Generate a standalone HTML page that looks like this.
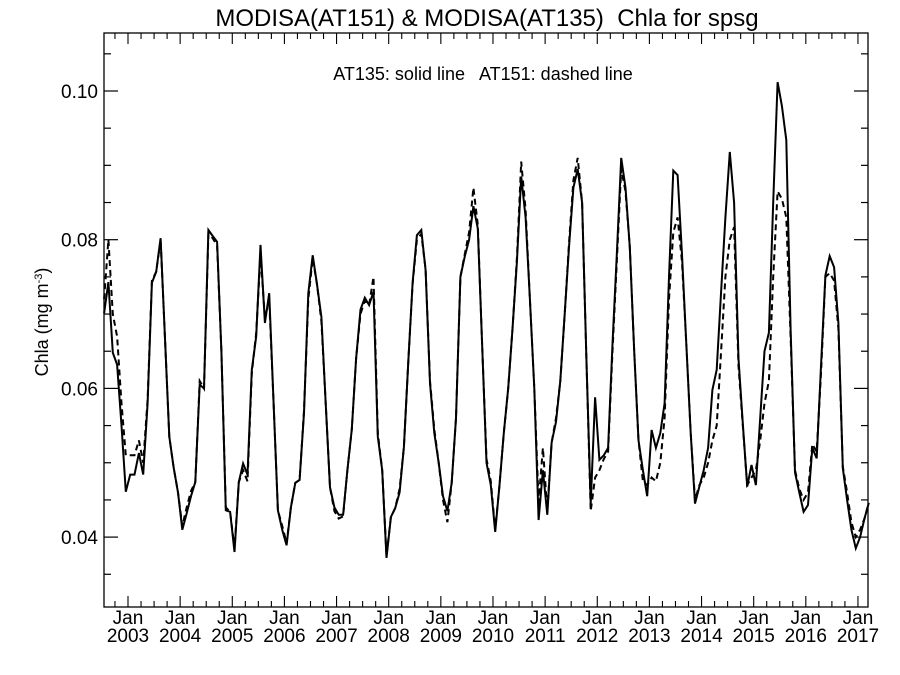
<!DOCTYPE html>
<html><head><meta charset="utf-8"><style>
body{margin:0;background:#fff;}
svg{display:block;font-family:"Liberation Sans",sans-serif;}
</style></head><body>
<svg id="chart" width="900" height="675" viewBox="0 0 900 675">
<rect x="0" y="0" width="900" height="675" fill="#fff"/>
<text x="487" y="26" font-size="24" text-anchor="middle" style="white-space:pre">MODISA(AT151) &amp; MODISA(AT135)  Chla for spsg</text>
<text x="483" y="80" font-size="18" text-anchor="middle" style="white-space:pre">AT135: solid line   AT151: dashed line</text>
<text transform="translate(48,322) rotate(-90)" font-size="18" text-anchor="middle">Chla (mg m<tspan baseline-shift="super" font-size="11">-3</tspan>)</text>
<g id="axes"></g>
<g id="series"></g>
</svg>
<script>
const startYear = 2002, startMonth = 7;
const yTicks = [0.04, 0.06, 0.08, 0.10];
const yTickLabels = ["0.04", "0.06", "0.08", "0.10"];
const xYears = [2003,2004,2005,2006,2007,2008,2009,2010,2011,2012,2013,2014,2015,2016,2017];
const solidAT135 = [
0.0701,0.0743,0.0648,0.0632,0.0550,0.0461,0.0484,0.0484,0.0513,0.0484,0.0580,0.0742,0.0757,0.0802,0.0670,0.0535,0.0494,0.0460,0.0410,0.0432,0.0455,0.0474,0.0605,0.0600,
0.0813,0.0805,0.0797,0.0650,0.0436,0.0434,0.0380,0.0474,0.0499,0.0484,0.0625,0.0670,0.0793,0.0688,0.0728,0.0580,0.0436,0.0410,0.0389,0.0440,0.0473,0.0477,0.0567,0.0728,
0.0779,0.0740,0.0696,0.0580,0.0467,0.0440,0.0430,0.0430,0.0490,0.0545,0.0640,0.0706,0.0722,0.0712,0.0730,0.0535,0.0490,0.0372,0.0427,0.0439,0.0460,0.0521,0.0636,0.0742,
0.0806,0.0813,0.0759,0.0607,0.0540,0.0500,0.0455,0.0435,0.0473,0.0560,0.0750,0.0777,0.0800,0.0845,0.0815,0.0660,0.0500,0.0470,0.0407,0.0470,0.0540,0.0600,0.0680,0.0770,
0.0885,0.0830,0.0720,0.0600,0.0423,0.0490,0.0430,0.0527,0.0555,0.0610,0.0700,0.0790,0.0870,0.0895,0.0850,0.0640,0.0445,0.0588,0.0504,0.0510,0.0520,0.0660,
0.0780,0.0910,0.0870,0.0790,0.0650,0.0530,0.0490,0.0455,0.0544,0.0520,0.0540,0.0580,0.0750,0.0893,0.0887,0.0780,0.0660,0.0540,0.0445,0.0468,0.0490,0.0520,0.0598,0.0625,
0.0730,0.0830,0.0918,0.0850,0.0640,0.0553,0.0468,0.0497,0.0470,0.0560,0.0650,0.0675,0.0850,0.1012,0.0980,0.0934,0.0680,0.0487,0.0460,0.0434,0.0443,0.0520,0.0506,0.0630,
0.0752,0.0778,0.0763,0.0688,0.0493,0.0450,0.0410,0.0385,0.0400,0.0425,0.0446];
const dashedAT151 = [
0.0720,0.0800,0.0700,0.0670,0.0580,0.0510,0.0510,0.0510,0.0530,0.0500,0.0585,0.0745,0.0757,0.0800,0.0670,0.0535,0.0494,0.0460,0.0415,0.0440,0.0462,0.0474,0.0610,0.0600,
0.0808,0.0802,0.0792,0.0650,0.0440,0.0434,0.0385,0.0474,0.0490,0.0475,0.0620,0.0675,0.0780,0.0695,0.0720,0.0580,0.0436,0.0415,0.0392,0.0440,0.0473,0.0477,0.0570,0.0720,
0.0775,0.0740,0.0690,0.0580,0.0467,0.0435,0.0425,0.0428,0.0490,0.0545,0.0640,0.0700,0.0718,0.0712,0.0750,0.0540,0.0490,0.0375,0.0427,0.0439,0.0465,0.0521,0.0636,0.0740,
0.0800,0.0808,0.0760,0.0610,0.0545,0.0500,0.0450,0.0420,0.0473,0.0560,0.0750,0.0780,0.0810,0.0870,0.0820,0.0660,0.0505,0.0475,0.0410,0.0470,0.0540,0.0600,0.0680,0.0775,
0.0905,0.0840,0.0720,0.0600,0.0447,0.0520,0.0435,0.0527,0.0560,0.0610,0.0700,0.0795,0.0880,0.0910,0.0850,0.0640,0.0435,0.0480,0.0490,0.0505,0.0515,0.0650,
0.0770,0.0895,0.0865,0.0790,0.0650,0.0530,0.0475,0.0470,0.0480,0.0475,0.0500,0.0560,0.0720,0.0810,0.0830,0.0770,0.0660,0.0540,0.0450,0.0470,0.0480,0.0500,0.0530,0.0550,
0.0650,0.0750,0.0800,0.0817,0.0630,0.0550,0.0470,0.0480,0.0490,0.0530,0.0580,0.0610,0.0750,0.0865,0.0855,0.0830,0.0670,0.0490,0.0465,0.0450,0.0460,0.0525,0.0515,0.0620,
0.0750,0.0755,0.0745,0.0680,0.0495,0.0460,0.0420,0.0400,0.0410,0.0425,0.0446];

const NS = "http://www.w3.org/2000/svg";
const L = 104, R = 868, T = 33, B = 607;
function yPx(v){ return 91 + (0.10 - v) / 0.02 * 148.7; }
function xPx(t){ return 128 + (t - 2003) * 52.14; }
function monthT(i){ const m = startMonth - 1 + i; return startYear + (m + 0.5) / 12; }
function mk(tag, attrs, parent){ const e = document.createElementNS(NS, tag); for (const k in attrs) e.setAttribute(k, attrs[k]); parent.appendChild(e); return e; }
const axes = document.getElementById("axes");
const frame = mk("rect", {x:L, y:T, width:R-L, height:B-T, fill:"none", stroke:"#000", "stroke-width":1.3}, axes);


for (let k = 0; k <= 16; k++) {
  const v = 0.03 + k * 0.005;
  const y = yPx(v);
  if (y < T || y > B) continue;
  const major = yTicks.some(t => Math.abs(t - v) < 1e-6);
  const len = major ? 14 : 7;
  const tl = mk("line", {x1:L, x2:L+len, y1:y, y2:y, stroke:"#000", "stroke-width":1.2}, axes);
  
  
  const tr = mk("line", {x1:R, x2:R-len, y1:y, y2:y, stroke:"#000", "stroke-width":1.2}, axes);
  
  
}
yTicks.forEach((v, i) => {
  const t = mk("text", {x:L-6, y:yPx(v)+7, "font-size":19, "text-anchor":"end"}, axes);
  t.textContent = yTickLabels[i];
  
  
});
for (let q = 0; q < 80; q++) {
  const t = 2002.5 + q * 0.25;
  const x = xPx(t);
  if (x <= L || x >= R) continue;
  const major = Math.abs(t - Math.round(t)) < 1e-6;
  const len = major ? 11 : 6;
  const b = mk("line", {x1:x, x2:x, y1:B, y2:B-len, stroke:"#000", "stroke-width":1.1}, axes);
  
  
  const tp = mk("line", {x1:x, x2:x, y1:T, y2:T+len, stroke:"#000", "stroke-width":1.1}, axes);
  
  
}
xYears.forEach(yr => {
  const x = xPx(yr);
  const a = mk("text", {x:x, y:624, "font-size":19, "text-anchor":"middle"}, axes);
  a.textContent = "Jan";
  
  
  const b = mk("text", {x:x, y:642, "font-size":19, "text-anchor":"middle"}, axes);
  b.textContent = String(yr);
  
  
});
const series = document.getElementById("series");
function pts(arr){ return arr.map((v,i) => xPx(monthT(i)).toFixed(1) + "," + yPx(v).toFixed(1)).join(" "); }
const s1 = mk("polyline", {points:pts(solidAT135), fill:"none", stroke:"#000", "stroke-width":2, "stroke-linejoin":"miter"}, series);


const s2 = mk("polyline", {points:pts(dashedAT151), fill:"none", stroke:"#000", "stroke-width":2, "stroke-dasharray":"6,4"}, series);


</script>
</body></html>
